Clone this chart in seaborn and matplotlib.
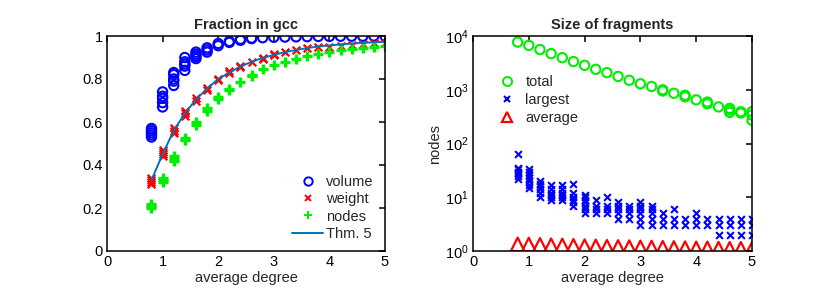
import numpy as np
import pandas as pd
import matplotlib
matplotlib.use("Agg")
import matplotlib.pyplot as plt
from matplotlib.lines import Line2D
import seaborn as sns

# average degree grid
degree = [0.8, 1.0, 1.2, 1.4, 1.6, 1.8, 2.0, 2.2, 2.4, 2.6, 2.8,
          3.0, 3.2, 3.4, 3.6, 3.8, 4.0, 4.2, 4.4, 4.6, 4.8, 5.0]

# fraction in gcc, several runs per degree
volume_runs = [[0.53, 0.54, 0.55, 0.56, 0.57], [0.67, 0.69, 0.71, 0.72, 0.74],
               [0.77, 0.79, 0.80, 0.82, 0.83], [0.84, 0.86, 0.87, 0.88, 0.90],
               [0.895, 0.905, 0.915, 0.925], [0.925, 0.935, 0.945], [0.955, 0.965],
               [0.97, 0.975], [0.98, 0.985], [0.988, 0.99], [0.992], [0.994], [0.995],
               [0.996], [0.997], [0.998], [0.998], [0.999], [0.999], [0.999], [1.0], [1.0]]
weight_runs = [[0.31, 0.32, 0.33, 0.34], [0.44, 0.45, 0.46, 0.47], [0.55, 0.56, 0.57],
               [0.63, 0.64, 0.65], [0.70, 0.71], [0.75, 0.76], [0.795, 0.80], [0.83, 0.835],
               [0.855, 0.86], [0.88], [0.895, 0.90], [0.91, 0.915], [0.925], [0.935],
               [0.942], [0.947], [0.951], [0.955], [0.96], [0.963], [0.966], [0.968]]
nodes_runs = [[0.20, 0.21, 0.22], [0.32, 0.33, 0.34], [0.42, 0.43, 0.44], [0.515, 0.525],
              [0.585, 0.60], [0.65, 0.665], [0.705, 0.715], [0.75, 0.755], [0.785],
              [0.815, 0.82], [0.845], [0.865], [0.88], [0.895], [0.905], [0.915],
              [0.925], [0.935], [0.94], [0.945], [0.95], [0.955]]
thm5 = [0.33, 0.45, 0.56, 0.64, 0.705, 0.755, 0.80, 0.83, 0.858, 0.88, 0.898,
        0.912, 0.925, 0.935, 0.944, 0.951, 0.956, 0.961, 0.965, 0.968, 0.971, 0.973]

# size of fragments
total_runs = [[7700], [6700], [5600], [4700], [3950], [3350], [2850], [2400], [2080],
              [1770], [1500], [1290], [1150], [950, 1000], [860], [740, 790], [650],
              [550, 590], [480], [380, 420, 450], [370, 390], [270, 340, 390]]
largest_runs = [[22, 25, 28, 30, 33, 35, 64], [15, 17, 20, 23, 26, 30, 34],
                [10, 12, 14, 16, 18, 20], [9, 10, 11, 12, 14, 17], [9, 10, 11, 12, 14, 17],
                [7, 8, 9, 10, 12, 18], [5, 6, 7, 8, 9, 10, 11], [5, 6, 7, 9], [5, 6, 7, 10],
                [4, 5, 6, 7, 8], [4, 5, 6, 7], [3, 4, 5, 6, 7, 8], [3, 4, 5, 6, 7], [3, 4, 5],
                [3, 4, 6], [3, 4], [3, 4, 5], [3, 4], [2, 3, 4], [2, 3, 4], [2, 3, 4], [2, 3, 4]]
average_size = [1.33, 1.32, 1.30, 1.28, 1.27, 1.25, 1.23, 1.22, 1.20, 1.19, 1.18,
                1.17, 1.16, 1.15, 1.14, 1.13, 1.12, 1.12, 1.11, 1.10, 1.10, 1.10]

GREEN = "#00ee00"
THM = "#0072bd"


def long_form(runs):
    rows = [(d, v) for d, vals in zip(degree, runs) for v in vals]
    return pd.DataFrame(rows, columns=["degree", "value"])


sns.set_style("white")
plt.rcParams["font.family"] = ["Liberation Sans", "DejaVu Sans"]
plt.rcParams["mathtext.fontset"] = "custom"
plt.rcParams["mathtext.rm"] = "Liberation Sans"
plt.rcParams["font.size"] = 10

fig = plt.figure(figsize=(8.3, 2.97), dpi=100)
ax1 = fig.add_axes([107 / 830, 46 / 297, 278 / 830, 215 / 297])
ax2 = fig.add_axes([473 / 830, 46 / 297, 279 / 830, 215 / 297])

# left panel
sns.scatterplot(data=long_form(volume_runs), x="degree", y="value", ax=ax1,
                marker="o", s=45, facecolor="none", edgecolor="blue", linewidth=1.5)
sns.scatterplot(data=long_form(weight_runs), x="degree", y="value", ax=ax1,
                marker="x", s=30, color="red", edgecolor="red", linewidth=1.6)
sns.scatterplot(data=long_form(nodes_runs), x="degree", y="value", ax=ax1,
                marker="+", s=45, color=GREEN, edgecolor=GREEN, linewidth=2.4)
sns.lineplot(x=degree, y=thm5, ax=ax1, color=THM, linewidth=1.4)
ax1.set_xlim(0, 5)
ax1.set_ylim(0, 1)
ax1.set_xticks([0, 1, 2, 3, 4, 5])
ax1.set_yticks([0, 0.2, 0.4, 0.6, 0.8, 1])
ax1.set_yticklabels(["0", "0.2", "0.4", "0.6", "0.8", "1"])
ax1.set_title("Fraction in gcc", fontsize=10.5, fontweight="bold", pad=5)
ax1.set_xlabel("average degree", fontsize=10.5, labelpad=1)
ax1.set_ylabel("")
left_handles = [
    Line2D([], [], ls="", marker="o", ms=6, mfc="none", mec="blue", mew=1.4),
    Line2D([], [], ls="", marker="x", ms=4.5, mec="red", mew=1.4),
    Line2D([], [], ls="", marker="+", ms=6, mec=GREEN, mew=1.4),
    Line2D([], [], color=THM, lw=1.4),
]
ax1.legend(left_handles, ["volume", "weight", "nodes", "Thm. 5"],
           loc="lower right", bbox_to_anchor=(0.995, 0.0), frameon=False,
           handlelength=2.1, handletextpad=0.2, labelspacing=0.22,
           fontsize=10.5, borderaxespad=0.3)

# right panel
sns.scatterplot(data=long_form(total_runs), x="degree", y="value", ax=ax2,
                marker="o", s=45, facecolor="none", edgecolor=GREEN, linewidth=1.5)
sns.scatterplot(data=long_form(largest_runs), x="degree", y="value", ax=ax2,
                marker="x", s=24, color="blue", edgecolor="blue", linewidth=1.5)
sns.scatterplot(x=degree, y=average_size, ax=ax2, marker="^", s=95,
                facecolor="none", edgecolor="red", linewidth=1.6)
ax2.set_yscale("log")
ax2.set_xlim(0, 5)
ax2.set_ylim(1, 1e4)
ax2.set_xticks([0, 1, 2, 3, 4, 5])
ax2.set_yticks([1, 10, 100, 1000, 10000])
ax2.yaxis.set_minor_locator(matplotlib.ticker.NullLocator())
ax2.set_title("Size of fragments", fontsize=10.5, fontweight="bold", pad=5)
ax2.set_xlabel("average degree", fontsize=10.5, labelpad=1)
ax2.set_ylabel("nodes", fontsize=10.5, labelpad=2)
right_handles = [
    Line2D([], [], ls="", marker="o", ms=6.5, mfc="none", mec=GREEN, mew=1.4),
    Line2D([], [], ls="", marker="x", ms=4.5, mec="blue", mew=1.5),
    Line2D([], [], ls="", marker="^", ms=7, mfc="none", mec="red", mew=1.6),
]
ax2.legend(right_handles, ["total", "largest", "average"],
           loc="upper left", bbox_to_anchor=(0.065, 0.845), frameon=False,
           handlelength=1.4, handletextpad=0.55, labelspacing=0.28,
           fontsize=10.5, borderaxespad=0.0)

for ax in (ax1, ax2):
    for sp in ax.spines.values():
        sp.set_color("black")
        sp.set_linewidth(1.1)
    ax.tick_params(direction="in", length=4, width=1.1, top=True, right=True,
                   labelsize=10.5, pad=3, colors="black")
    ax.tick_params(which="minor", length=0)

fig.savefig("out.png", dpi=100)
